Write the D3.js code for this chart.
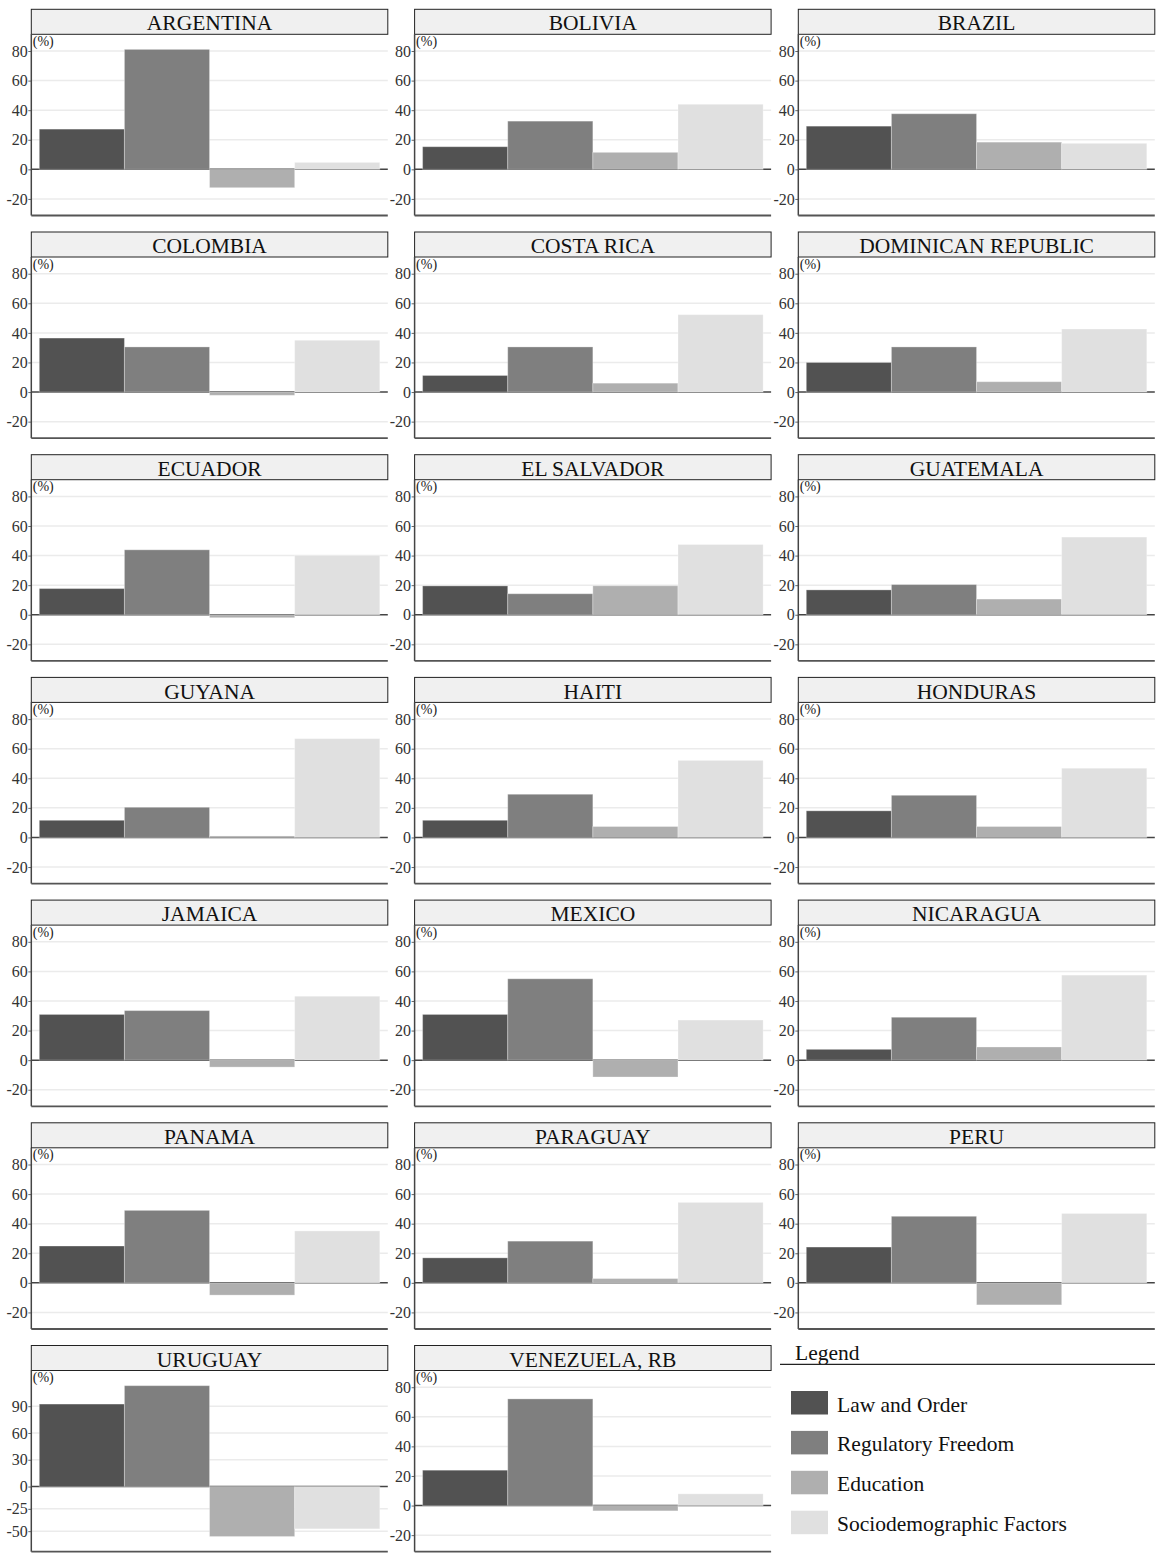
<!DOCTYPE html>
<html>
<head>
<meta charset="utf-8">
<script src="https://cdn.jsdelivr.net/npm/d3@7"></script>
<style>
  html, body { margin: 0; padding: 0; background: #fff; }
  svg { display: block; font-family: "Liberation Serif", "Times New Roman", serif; }
</style>
</head>
<body>
<div id="chart"></div>
<script>
// Contribution of each factor, by country (%)
const countries = [
  "ARGENTINA", "BOLIVIA", "BRAZIL",
  "COLOMBIA", "COSTA RICA", "DOMINICAN REPUBLIC",
  "ECUADOR", "EL SALVADOR", "GUATEMALA",
  "GUYANA", "HAITI", "HONDURAS",
  "JAMAICA", "MEXICO", "NICARAGUA",
  "PANAMA", "PARAGUAY", "PERU",
  "URUGUAY", "VENEZUELA, RB"
];
const factors = ["Law and Order", "Regulatory Freedom", "Education", "Sociodemographic Factors"];

const lawAndOrder       = [27.2, 15.3, 29.2, 36.5, 11.2, 20.0, 17.7, 19.5, 16.8, 11.6, 11.6, 18.0, 30.9, 30.9, 7.3, 24.9, 16.9, 24.2, 92.4, 23.9];
const regulatoryFreedom = [81.1, 32.6, 37.6, 30.5, 30.5, 30.5, 43.9, 14.2, 20.4, 20.4, 29.2, 28.5, 33.5, 55.0, 29.0, 49.0, 28.2, 45.0, 113.0, 72.1];
const education         = [-12.4, 11.5, 18.4, -2.2, 6.0, 7.0, -2.0, 19.6, 10.6, 1.0, 7.4, 7.4, -4.7, -11.4, 8.9, -8.3, 2.9, -14.9, -56.0, -3.6];
const sociodemographic  = [4.7, 44.0, 17.6, 35.0, 52.3, 42.6, 40.1, 47.5, 52.5, 66.8, 52.1, 46.8, 43.2, 27.1, 57.5, 35.1, 54.4, 46.9, -47.4, 7.9];

// y-axis ticks and value ranges: a shared one, and a wider one for Uruguay
const commonTicks = [80, 60, 40, 20, 0, -20];
const commonDomain = [-31.2, 91.3];
const uruguayTicks = [90, 60, 30, 0, -25, -50];
const uruguayDomain = [-73, 130];

const factorColors = ["#525252", "#7f7f7f", "#afafaf", "#e0e0e0"];

const W = 1156, H = 1558;
const svg = d3.select("#chart").append("svg")
  .attr("width", W).attr("height", H);

const colX = [31.3, 414.6, 798.3];
const panelW = 356.5;
const rowY0 = 9.3, rowStep = 222.7;
const titleH = 25;
const plotH = 181.2;

const series = [lawAndOrder, regulatoryFreedom, education, sociodemographic];

const x = d3.scaleBand().domain(factors).range([0, panelW])
  .paddingInner(0).paddingOuter(0.094);

countries.forEach((name, i) => {
  const col = i % 3, row = Math.floor(i / 3);
  const px = colX[col], py = rowY0 + row * rowStep;
  const isUruguay = name === "URUGUAY";
  const ticks = isUruguay ? uruguayTicks : commonTicks;
  const y = d3.scaleLinear().domain(isUruguay ? uruguayDomain : commonDomain)
    .range([plotH, 0]);

  const g = svg.append("g").attr("transform", `translate(${px},${py})`);

  // title strip
  g.append("rect")
    .attr("x", 0).attr("y", 0).attr("width", panelW).attr("height", titleH)
    .attr("fill", "#f0f0f0").attr("stroke", "#222").attr("stroke-width", 1);
  g.append("text")
    .attr("x", panelW / 2).attr("y", titleH - 3.8)
    .attr("text-anchor", "middle")
    .attr("font-size", 21.5).attr("fill", "#111")
    .text(name);

  const plot = g.append("g").attr("transform", `translate(0,${titleH})`);

  // horizontal grid
  plot.selectAll("line.grid").data(ticks.filter(t => t !== 0)).join("line")
    .attr("class", "grid")
    .attr("x1", 0).attr("x2", panelW)
    .attr("y1", d => y(d)).attr("y2", d => y(d))
    .attr("stroke", "#ebebeb").attr("stroke-width", 1.5);

  // zero line
  plot.append("line")
    .attr("x1", 0).attr("x2", panelW)
    .attr("y1", y(0)).attr("y2", y(0))
    .attr("stroke", "#444").attr("stroke-width", 1.5);

  // bars
  const vals = factors.map((f, k) => ({ f, k, v: series[k][i] }));
  plot.selectAll("rect.bar").data(vals).join("rect")
    .attr("class", "bar")
    .attr("x", d => x(d.f))
    .attr("width", x.bandwidth())
    .attr("y", d => y(Math.max(0, d.v)))
    .attr("height", d => Math.abs(y(d.v) - y(0)))
    .attr("fill", d => factorColors[d.k])
    .attr("stroke", "rgba(255,255,255,0.3)").attr("stroke-width", 1);

  // left axis (plain hyphen for negative labels)
  const axis = d3.axisLeft(y).tickValues(ticks).tickFormat(d => String(d))
    .tickSize(3).tickPadding(0.5);
  const ax = plot.append("g").call(axis);
  ax.select(".domain").remove();
  ax.selectAll(".tick line").attr("stroke", "#666");
  ax.selectAll(".tick text")
    .attr("font-family", "Liberation Serif, serif")
    .attr("font-size", 16).attr("fill", "#333");

  plot.append("line")
    .attr("x1", 0).attr("x2", 0).attr("y1", 0).attr("y2", plotH)
    .attr("stroke", "#444").attr("stroke-width", 1.5);
  plot.append("line")
    .attr("x1", 0).attr("x2", panelW).attr("y1", plotH).attr("y2", plotH)
    .attr("stroke", "#555").attr("stroke-width", 1.8);

  // unit label
  plot.append("text")
    .attr("x", 1.5).attr("y", 11.5)
    .attr("font-size", 14).attr("fill", "#222")
    .text("(%)");
});

// legend
const lg = svg.append("g").attr("transform", "translate(780,1340)");
lg.append("text").attr("x", 15).attr("y", 20)
  .attr("font-size", 21.5).attr("fill", "#111").text("Legend");
lg.append("line").attr("x1", 0).attr("x2", 375).attr("y1", 24.3).attr("y2", 24.3)
  .attr("stroke", "#222").attr("stroke-width", 1.2);

const item = lg.selectAll("g.item").data(factors).join("g")
  .attr("class", "item")
  .attr("transform", (d, k) => `translate(11,${51 + k * 39.9})`);
item.append("rect")
  .attr("width", 37).attr("height", 23.5)
  .attr("fill", (d, k) => factorColors[k]);
item.append("text")
  .attr("x", 46).attr("y", 20.5)
  .attr("font-size", 21.5).attr("fill", "#111")
  .text(d => d);
</script>
</body>
</html>
